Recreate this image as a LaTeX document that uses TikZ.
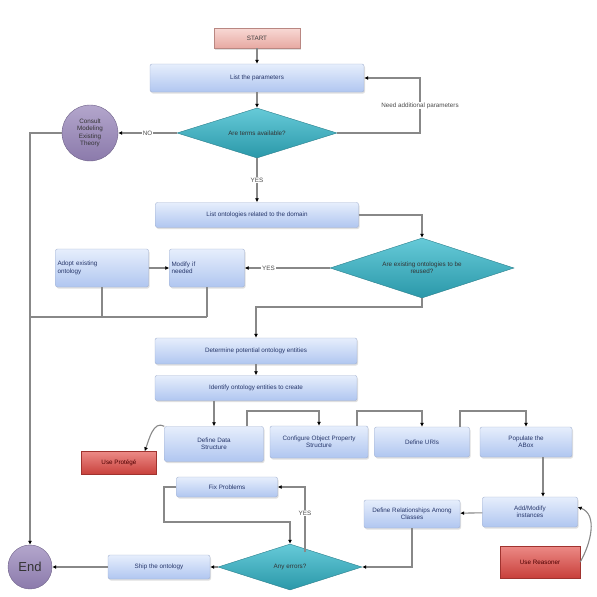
\documentclass[tikz,border=0pt]{standalone}
\usepackage{fontspec}
\setmainfont{Liberation Sans}
\usetikzlibrary{shapes.geometric,arrows.meta,shadows}
\definecolor{boxtop}{HTML}{E6EEFC}
\definecolor{boxbot}{HTML}{B0C6F0}
\definecolor{boxline}{HTML}{A2B1D0}
\definecolor{boxtext}{HTML}{26366A}
\definecolor{diatop}{HTML}{66CAD8}
\definecolor{diabot}{HTML}{2A98A9}
\definecolor{dialine}{HTML}{2A7F8C}
\definecolor{cirtop}{HTML}{B3A6CC}
\definecolor{cirbot}{HTML}{8B7AAB}
\definecolor{redtop}{HTML}{EC8A86}
\definecolor{redbot}{HTML}{C8403B}
\definecolor{pinktop}{HTML}{F8D9D5}
\definecolor{pinkbot}{HTML}{E7A9A2}
\definecolor{wire}{HTML}{888888}

\begin{document}
\begin{tikzpicture}[x=1pt, y=-1pt,
  every node/.style={font=\fontsize{6.3}{7.3}\selectfont},
  box/.style={draw=boxline, rounded corners=2pt, top color=boxtop, bottom color=boxbot, text=boxtext, align=center, inner sep=2pt, drop shadow={opacity=0.25, shadow xshift=1pt, shadow yshift=-1.5pt}},
  lbox/.style={box, align=left, text width=#1},
  dia/.style={diamond, aspect=3, inner sep=0pt, draw=dialine, top color=diatop, bottom color=diabot, text=black!80, align=center},
  blob/.style={circle, draw=cirbot!80!black, top color=cirtop, bottom color=cirbot, text=black!80, align=center, inner sep=0pt},
  redbox/.style={draw=redbot!80!black, top color=redtop, bottom color=redbot, text=red!30!black, align=center, inner sep=2pt},
  tag/.style={fill=white, inner sep=1pt, text=black!70},
  arr/.style={draw=wire, line width=1.1pt, -{Latex[length=4pt, width=4pt, black]}},
  ln/.style={draw=wire, line width=1.1pt}]
\useasboundingbox (0,0) rectangle (597,597);

\node[box, draw=pinkbot!80!black, top color=pinktop, bottom color=pinkbot, text=black!75, rounded corners=0pt, minimum width=86pt, minimum height=20pt] (start) at (257,38) {START};
\node[box, minimum width=214pt, minimum height=28pt] (list) at (257,78) {List the parameters};
\node[dia, minimum width=160pt, minimum height=50pt] (q1) at (257,133) {Are terms available?};
\node[blob, minimum size=56pt] (consult) at (90,133) {Consult\\Modeling\\Existing\\Theory};
\node[box, minimum width=203pt, minimum height=25pt] (lo) at (257,215) {List ontologies related to the domain};
\node[dia, minimum width=184pt, minimum height=60pt] (q2) at (422,268) {Are existing ontologies to be\\reused?};
\node[lbox=71pt, minimum height=38pt] (modify) at (207,268) {Modify if\\needed};
\node[lbox=89pt, minimum height=38pt] (adopt) at (102,268) {Adopt existing\\ontology};
\node[box, minimum width=202pt, minimum height=26pt] (determine) at (256,351) {Determine potential ontology entities};
\node[box, minimum width=202pt, minimum height=25pt] (identify) at (256,388) {Identify ontology entities to create};
\node[box, minimum width=99pt, minimum height=35pt] (dds) at (214,444) {Define Data\\Structure};
\node[box, minimum width=98pt, minimum height=32pt] (cops) at (319,442) {Configure Object Property\\Structure};
\node[box, minimum width=95pt, minimum height=30pt] (uri) at (422,442) {Define URIs};
\node[box, minimum width=92pt, minimum height=30pt] (abox) at (526,442) {Populate the\\ABox};
\node[redbox, minimum width=75pt, minimum height=23pt] (red1) at (119,463) {Use Protégé};
\node[box, minimum width=95pt, minimum height=30pt] (inst) at (530,512) {Add/Modify\\instances};
\node[box, minimum width=96pt, minimum height=28pt] (rel) at (412,514) {Define Relationships Among\\Classes};
\node[redbox, minimum width=80pt, minimum height=32pt] (red2) at (540,562) {Use Reasoner};
\node[dia, minimum width=144pt, minimum height=46pt] (q3) at (290,567) {Any errors?};
\node[box, minimum width=101pt, minimum height=20pt] (fix) at (227,487) {Fix Problems};
\node[box, minimum width=102pt, minimum height=24pt] (ship) at (159,567) {Ship the ontology};
\node[blob, minimum size=44pt, font=\fontsize{13}{14}\selectfont] (end) at (30,567) {End};

\coordinate (c1) at (30,133);
\coordinate (c2) at (420,133);
\coordinate (c3) at (30,317);
\coordinate (c4) at (256,307);
\coordinate (t1) at (247,411);
\coordinate (t2) at (357,411);
\coordinate (t3) at (460,411);
\coordinate (q3out) at (305,552);
\coordinate (c5) at (164,522);

\draw[arr] (start) -- (list);
\draw[arr] (list) -- (q1);
\draw[arr] (q1) -- node[tag] {NO} (consult);
\draw[arr] (q1.east) -- (c2) |- node[tag, pos=0.25] {Need additional parameters} (list.east);
\draw[arr] (q1) -- node[tag] {YES} (lo);
\draw[arr] (lo.east) -| (q2.north);
\draw[arr] (q2) -- node[tag, pos=0.72] {YES} (modify);
\draw[arr] (adopt) -- (modify);
\draw[ln] (adopt.south) -- (adopt.south |- c3);
\draw[ln] (modify.south) -- (modify.south |- c3);
\draw[ln] (c3) -- (modify.south |- c3);
\draw[arr] (consult.west) -- (c1) -- (end.north);
\draw[arr] (q2.south) |- (c4) -- (determine.north);
\draw[arr] (determine) -- (identify);
\draw[arr] (dds.north |- identify.south) -- (dds.north);
\draw[arr] (dds.north -| t1) -- (t1) -| (cops.north);
\draw[arr] (cops.north -| t2) -- (t2) -| (uri.north);
\draw[arr] (uri.north -| t3) -- (t3) -| (abox.north);
\draw[arr] (dds.north west) to[out=150, in=70] ([xshift=-12pt]red1.north east);
\draw[arr] ([xshift=17pt]abox.south) -- ([xshift=17pt]abox.south |- inst.north);
\draw[arr] (red2.east) to[out=60, in=-20] ([yshift=5pt]inst.east);
\draw[arr] (inst) -- (rel);
\draw[arr] (rel.south) |- (q3.east);
\draw[arr] (q3out) |- node[tag, pos=0.3] {YES} (fix.east);
\draw[arr] (fix.west) -| (c5) -| (q3.north);
\draw[arr] (q3) -- (ship);
\draw[arr] (ship) -- (end);
\end{tikzpicture}
\end{document}
